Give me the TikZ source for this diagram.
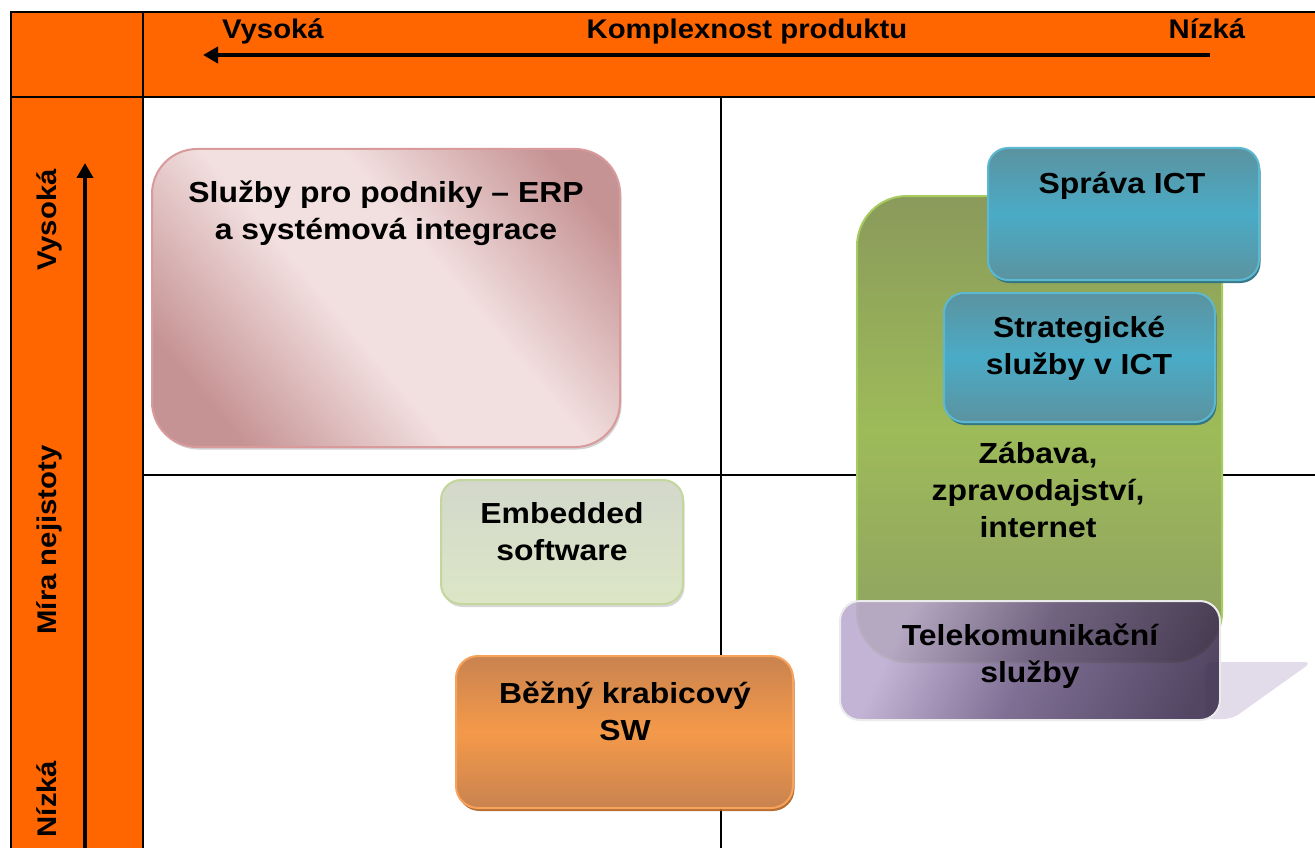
\documentclass[tikz,border=0pt]{standalone}
\usepackage{fontspec}
\setmainfont{Liberation Sans}
\newfontfamily\bx{Liberation Sans}[FakeStretch=1.1]
\newfontfamily\hx{Liberation Sans}[FakeStretch=1.085]
\usetikzlibrary{arrows.meta,shadows}
\definecolor{hdrorange}{HTML}{FF6600}
\definecolor{pinkdark}{HTML}{C69394}
\definecolor{pinklight}{HTML}{F2DFDF}
\definecolor{pinkborder}{HTML}{D99A9C}
\definecolor{embtop}{HTML}{D3D8CB}
\definecolor{embbot}{HTML}{DCE6C6}
\definecolor{embborder}{HTML}{C3D69B}
\definecolor{ortop}{HTML}{C9834F}
\definecolor{ormid}{HTML}{F4994A}
\definecolor{orborder}{HTML}{F7A35C}
\definecolor{orshadow}{HTML}{B0601E}
\definecolor{grtop}{HTML}{8A9A5B}
\definecolor{grmid}{HTML}{9DBB59}
\definecolor{grbot}{HTML}{8E9F62}
\definecolor{grborder}{HTML}{A6CB5E}
\definecolor{tltop}{HTML}{5B93A0}
\definecolor{tlmid}{HTML}{4AABC6}
\definecolor{tlborder}{HTML}{5CB8D0}
\definecolor{tlshadow}{HTML}{2F7384}
\definecolor{pulight}{HTML}{BBA9CF}
\definecolor{pumid}{HTML}{6E5C86}
\definecolor{pudark}{HTML}{3B2D4E}
\definecolor{pushadow}{HTML}{E2DCEA}
\pgfdeclarehorizontalshading{pinkband}{100bp}{color(0bp)=(pinkdark); color(24bp)=(pinkdark); color(44bp)=(pinklight); color(58bp)=(pinklight); color(78bp)=(pinkdark); color(100bp)=(pinkdark)}
\pgfdeclarehorizontalshading{purpleglow}{100bp}{color(0bp)=(pulight); color(28bp)=(pulight); color(50bp)=(pumid); color(78bp)=(pudark); color(100bp)=(pudark)}
\tikzset{
  gridline/.style={line width=2pt, black},
  axisarrow/.style={line width=4pt, -{Triangle[length=15pt,width=16pt]}},
  hdr/.style={font=\hx\bfseries\fontsize{27}{32}\selectfont, inner sep=0pt, anchor=base},
  lbl/.style={font=\bx\bfseries\fontsize{29}{37}\selectfont, align=center, inner sep=0pt},
  boxbase/.style={rectangle, line width=2pt, inner sep=0pt},
  erpbox/.style={boxbase, rounded corners=45pt, draw=pinkborder, shading=pinkband, shading angle=40,
     drop shadow={shadow xshift=1.5pt, shadow yshift=-2.5pt, opacity=0.35}},
  embbox/.style={boxbase, rounded corners=20pt, draw=embborder, top color=embtop, bottom color=embbot,
     drop shadow={shadow xshift=1.5pt, shadow yshift=-3pt, opacity=0.3}},
  orbox/.style={boxbase, rounded corners=22pt, draw=orborder, top color=ortop, bottom color=ortop, middle color=ormid,
     drop shadow={shadow xshift=1.5pt, shadow yshift=-3pt, fill=orshadow, opacity=0.9}},
  grbox/.style={boxbase, rounded corners=50pt, draw=grborder, top color=grtop, bottom color=grbot, middle color=grmid},
  tlbox/.style={boxbase, rounded corners=20pt, draw=tlborder, top color=tltop, bottom color=tltop, middle color=tlmid,
     drop shadow={shadow xshift=1.5pt, shadow yshift=-3pt, fill=tlshadow, opacity=0.95}},
  pubox/.style={boxbase, rounded corners=20pt, draw=white!92!black, shading=purpleglow,
     shading angle=-25, fill opacity=0.88, draw opacity=1},
}
\begin{document}
\begin{tikzpicture}[x=1pt,y=-1pt]
\useasboundingbox (0,0) rectangle (1315,848);
\fill[white] (0,0) rectangle (1315,848);
% orange header row and column
\fill[hdrorange] (11,12) rectangle (1315,97);
\fill[hdrorange] (11,97) rectangle (143,848);
% grid lines
\draw[gridline, line width=2.5pt] (11,848) -- (11,12) -- (1315,12);
\draw[gridline, line width=2.5pt] (11,97) -- (1315,97);
\draw[gridline] (143,12) -- (143,848);
\draw[gridline] (721,97) -- (721,848);
\draw[gridline] (143,475) -- (1315,475);
% axis arrows
\coordinate (hA) at (1210,55);
\coordinate (hB) at (203,55);
\draw[axisarrow] (hA) -- (hB);
\coordinate (vA) at (85,848);
\coordinate (vB) at (85,163);
\draw[axisarrow] (vA) -- (vB);
% axis labels
\node[hdr] (hv) at (273,39) {Vysoká};
\node[hdr] (hk) at (747,39) {Komplexnost produktu};
\node[hdr] (hn) at (1207,39) {Nízká};
\node[hdr, rotate=90] (lv) at (56,220) {Vysoká};
\node[hdr, rotate=90] (lm) at (56,540) {Míra nejistoty};
\node[hdr, rotate=90] (ln) at (56,799) {Nízká};
% boxes
\node[erpbox, minimum width=468pt, minimum height=298pt] (erp) at (386,298) {};
\node[lbl] (erpt) at (386,213) {Služby pro podniky – ERP\\a systémová integrace};
\node[embbox, minimum width=242pt, minimum height=124pt] (emb) at (562,542) {};
\node[lbl] (embt) at (562,532) {Embedded\\software};
\node[orbox, minimum width=337pt, minimum height=152pt] (bez) at (624.5,732) {};
\node[lbl] (bezt) at (625,711) {Běžný krabicový\\SW};
% purple shadow
\fill[pushadow, rounded corners=8pt] (1205,662) -- (1312,662) -- (1232,719) -- (1205,719) -- cycle;
\node[grbox, minimum width=365pt, minimum height=466pt] (zab) at (1039.5,429) {};
\node[lbl] (zabt) at (1038,490) {Zábava,\\zpravodajství,\\internet};
\node[tlbox, minimum width=271pt, minimum height=132pt] (spr) at (1123.5,214) {};
\node[lbl] (sprt) at (1122,186) {Správa ICT};
\node[tlbox, minimum width=271pt, minimum height=129pt] (str) at (1079.5,357.5) {};
\node[lbl] (strt) at (1079,348) {Strategické\\služby v ICT};
\node[pubox, minimum width=380pt, minimum height=119pt] (tel) at (1030,660.5) {};
\node[lbl] (telt) at (1030,656) {Telekomunikační\\služby};
\end{tikzpicture}
\end{document}
